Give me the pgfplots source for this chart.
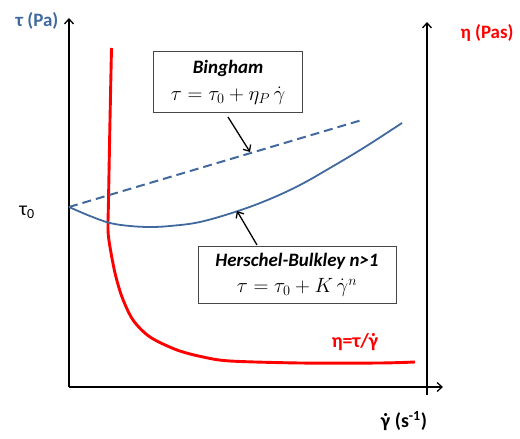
\documentclass[border=0pt]{standalone}
\usepackage{fontspec}
\setmainfont{Carlito}
\usepackage{pgfplots}
\usepackage{pgfplotstable}
\pgfplotsset{compat=1.18}
\usetikzlibrary{arrows.meta}

\definecolor{hbblue}{RGB}{65,105,160}
\definecolor{lblblue}{RGB}{62,106,158}
\definecolor{boxgray}{RGB}{70,70,70}

% gamma with a dot above (shear rate), built from the spacing dot accent
\newcommand\gdot{\ooalign{γ\cr\hidewidth ˙\hidewidth\cr}}

% apparent viscosity eta = tau / gamma-dot
\pgfplotstableread{
x y
42.5 339
41 267
39.5 187
39 157
41 140
46 114
53 90
64 67
81 50
108 37
134 30
161 26
231 24
311 24
346 25
}\viscosity

% Bingham model (straight line from tau_0)
\pgfplotstableread{
x y
0 180
293 267
}\bingham

% Herschel-Bulkley model
\pgfplotstableread{
x y
0 180
21 171
41 164
61 161
81 160
101 161
131 165
169 176
201 188
231 202
261 219
296 240
333 264
}\herschel

\tikzset{barb/.style={-{Straight Barb[length=5bp,width=9bp]}}}

\begin{document}
\begin{tikzpicture}
\begin{axis}[
  x=1bp, y=1bp,
  xmin=0, xmax=374, ymin=0, ymax=369,
  axis x line=bottom, axis y line=left,
  xtick=\empty, ytick=\empty,
  clip=false,
  axis line style={line width=1.3bp, barb},
]
% page frame
\path (axis cs:-69,-52) rectangle (axis cs:451,387);

% second (viscosity) axis on the right
\draw[line width=1.3bp, barb] (axis cs:358,-8) -- (axis cs:358,365);

\addplot[red, line width=2.9bp, smooth, tension=0.5] table {\viscosity};
\addplot[hbblue, line width=2bp, dash pattern=on 9bp off 5bp] table {\bingham};
\addplot[hbblue, line width=1.8bp, smooth, tension=0.6] table {\herschel};

% axis titles
\node[font=\fontsize{19}{22}\selectfont\bfseries, text=lblblue] at (axis cs:-32,366) {τ (Pa)};
\node[font=\fontsize{19}{22}\selectfont\bfseries, text=red] at (axis cs:418,354) {η (Pas)};
\node[font=\fontsize{20}{22}\selectfont] at (axis cs:-42,175) {τ\textsubscript{0}};
\node[font=\fontsize{20}{22}\selectfont\bfseries] at (axis cs:335,-34) {\gdot{} (s\textsuperscript{-1})};
\node[font=\fontsize{20}{22}\selectfont\bfseries, text=red] at (axis cs:286,45) {η=τ/\gdot};

% model annotations
\draw[line width=1.3bp, barb] (axis cs:159,270) -- (axis cs:181,235);
\node[draw=boxgray, line width=1bp, fill=white, minimum width=149bp, minimum height=61bp,
      align=center, inner sep=1bp, font=\fontsize{19}{27}\selectfont]
  at (axis cs:159,305) {\textbf{\textit{Bingham}}\\ {\fontsize{20}{24}\selectfont$\tau=\tau_0+\eta_P\,\dot{\gamma}$}};

\draw[line width=1.3bp, barb] (axis cs:188,142) -- (axis cs:168,176);
\node[draw=boxgray, line width=1bp, fill=white, minimum width=198bp, minimum height=57bp,
      align=center, inner sep=1bp, font=\fontsize{19}{26}\selectfont]
  at (axis cs:228,112) {\textbf{\textit{Herschel-Bulkley n>1}}\\ {\fontsize{20}{24}\selectfont$\tau=\tau_0+K\,\dot{\gamma}^n$}};
\end{axis}
\end{tikzpicture}
\end{document}
